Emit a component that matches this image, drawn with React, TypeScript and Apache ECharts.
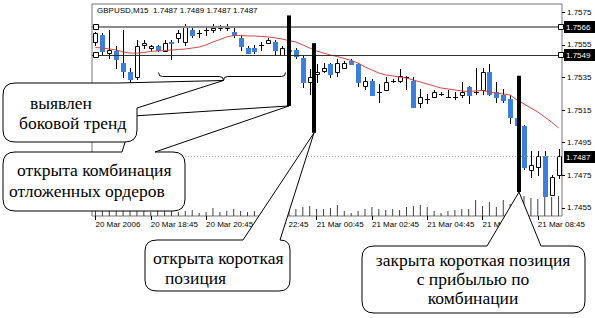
import React, { useEffect, useRef } from "react";
import * as echarts from "echarts";

const chartTitle = "GBPUSD,M15  1.7487 1.7489 1.7487 1.7487";
const timeTickLabels = [
  "20 Mar 2006", "20 Mar 18:45", "20 Mar 20:45", "20 Mar 22:45", "21 Mar 00:45",
  "21 Mar 02:45", "21 Mar 04:45", "21 Mar 06:45", "21 Mar 08:45",
];
const priceTickValues = [1.7455, 1.7475, 1.7495, 1.7515, 1.7535, 1.7555, 1.7575];

const opens = [
  1.7557, 1.7561, 1.755, 1.7551, 1.7544, 1.7538, 1.7535, 1.7555, 1.7553, 1.7554,
  1.7551, 1.7557, 1.7559, 1.7557, 1.7564, 1.7562, 1.7564, 1.7564, 1.7565, 1.7565,
  1.7563, 1.7559, 1.7553, 1.7553, 1.7555, 1.7556, 1.7557, 1.7549, 1.7552, 1.7552,
  1.7547, 1.7532, 1.7537, 1.7539, 1.7543, 1.7538, 1.7541, 1.7545, 1.7543, 1.753,
  1.7533, 1.7526, 1.7527, 1.7533, 1.7533, 1.7535, 1.7533, 1.7519, 1.7522, 1.7523,
  1.7525, 1.7523, 1.7523, 1.7524, 1.7529, 1.7526, 1.7527, 1.7538, 1.7526, 1.7524,
  1.7522, 1.751, 1.7505, 1.7478, 1.748, 1.7487, 1.7463, 1.7475,
];
const closes = [
  1.7562, 1.7551, 1.7552, 1.7546, 1.7539, 1.7534, 1.7554, 1.7556, 1.7554, 1.7552,
  1.7556, 1.7556, 1.7562, 1.7566, 1.7561, 1.7562, 1.7564, 1.7565, 1.7566, 1.7566,
  1.7561, 1.7554, 1.755, 1.7551, 1.7555, 1.7558, 1.7552, 1.7553, 1.7551, 1.7548,
  1.7532, 1.7535, 1.7538, 1.7541, 1.7537, 1.7544, 1.7544, 1.7543, 1.7532, 1.7533,
  1.7524, 1.7526, 1.7532, 1.7533, 1.7536, 1.7535, 1.7517, 1.7523, 1.7522, 1.7526,
  1.7525, 1.7523, 1.7523, 1.7526, 1.7524, 1.7526, 1.7538, 1.7525, 1.7523, 1.7521,
  1.7511, 1.7506, 1.748, 1.7481, 1.7487, 1.7462, 1.7474, 1.7487,
];
const lows = [
  1.7555, 1.7549, 1.7547, 1.7541, 1.7535, 1.7532, 1.7534, 1.7553, 1.7552, 1.7551,
  1.7551, 1.7546, 1.7557, 1.7555, 1.756, 1.756, 1.7561, 1.7563, 1.7564, 1.7564,
  1.756, 1.7552, 1.755, 1.755, 1.7552, 1.7556, 1.7549, 1.7549, 1.7549, 1.7547,
  1.7529, 1.7525, 1.7532, 1.7538, 1.7535, 1.7536, 1.7541, 1.7543, 1.753, 1.7528,
  1.7524, 1.752, 1.7527, 1.7532, 1.7532, 1.7528, 1.7517, 1.7517, 1.7519, 1.7523,
  1.7524, 1.7523, 1.7522, 1.7523, 1.7519, 1.7525, 1.7525, 1.7524, 1.752, 1.752,
  1.7507, 1.7505, 1.7479, 1.7474, 1.7475, 1.7462, 1.7463, 1.7473,
];
const highs = [
  1.7563, 1.7562, 1.7564, 1.7554, 1.7564, 1.7541, 1.7558, 1.7558, 1.7555, 1.7555,
  1.7558, 1.7558, 1.7564, 1.7568, 1.7565, 1.7564, 1.7565, 1.7568, 1.7567, 1.7568,
  1.7565, 1.7561, 1.7554, 1.7555, 1.7557, 1.7559, 1.7558, 1.7554, 1.7554, 1.7553,
  1.7549, 1.754, 1.7543, 1.7544, 1.7544, 1.7546, 1.7545, 1.7546, 1.7544, 1.7535,
  1.7534, 1.7531, 1.7535, 1.7534, 1.754, 1.7536, 1.7535, 1.7528, 1.7525, 1.7527,
  1.7526, 1.7527, 1.7526, 1.7532, 1.753, 1.7541, 1.7541, 1.7543, 1.7532, 1.7528,
  1.7524, 1.7511, 1.7506, 1.749, 1.749, 1.749, 1.7475, 1.7491,
];
const movingAverage = [
  1.75533, 1.7553, 1.75524, 1.75518, 1.75506, 1.75499, 1.75499, 1.75503, 1.75509, 1.75512,
  1.75515, 1.75518, 1.75521, 1.75524, 1.7553, 1.75536, 1.75549, 1.75567, 1.75582, 1.75598,
  1.75607, 1.75607, 1.75604, 1.75604, 1.75601, 1.75598, 1.75592, 1.75585, 1.75576, 1.75567,
  1.75549, 1.7553, 1.75512, 1.75499, 1.75487, 1.75478, 1.75466, 1.75454, 1.75438, 1.75414,
  1.75395, 1.75377, 1.75365, 1.75359, 1.75352, 1.75346, 1.75334, 1.75322, 1.75309, 1.75297,
  1.75285, 1.75279, 1.75273, 1.75267, 1.75263, 1.75267, 1.7527, 1.7526, 1.75254, 1.75248,
  1.75242, 1.75211, 1.75187, 1.75162, 1.75138, 1.75107, 1.75076, 1.7504,
];
const tickVolumes = [
  60, 80, 50, 70, 90, 60, 100, 50, 40, 60, 50, 70, 40, 50,
  60, 30, 40, 80, 40, 50, 70, 50, 40, 50,
  40, 60, 50, 70, 60, 70, 90, 100, 70, 70,
  80, 110, 50, 30, 50, 70, 90, 70, 60, 70,
  60, 90, 100, 110, 90, 50, 30, 50, 60, 70,
  70, 160, 100, 140, 90, 160, 120, 140, 200, 180,
  170, 190, 190, 200,
];
const levelPrices = [1.7566, 1.7549];
const bidPrice = 1.7487;
// vertical marker bars: bar index, top price, bottom price
const markerBars = [28, 31.6, 61.3];
const markerTops = [1.7573, 1.7556, 1.7536];
const markerBottoms = [1.75175, 1.7501, 1.74647];
const braceFromBar = 9;
const braceToBar = 27.4;
const bracePrice = 1.75358;

const categories = opens.map((_, i) => {
  const m = 16 * 60 + 45 + 15 * i;
  const day = 20 + Math.floor(m / 1440);
  const mm = m % 1440;
  return `${day} Mar ${String(Math.floor(mm / 60)).padStart(2, "0")}:${String(mm % 60).padStart(2, "0")}`;
});

const SANS = "Liberation Sans";
const SERIF = "Liberation Serif";

export default function App() {
  const ref = useRef<HTMLDivElement>(null);
  useEffect(() => {
    document.body.style.margin = "0";
    const chart = echarts.init(ref.current!, null, { renderer: "svg" });
    const candleData = opens.map((o, i) => [i, o, closes[i], lows[i], highs[i]]);
    chart.setOption({
      animation: false,
      backgroundColor: "#fff",
      grid: {
        left: 92, right: 33, top: 4, bottom: 102,
        show: true, borderColor: "#777", borderWidth: 1, backgroundColor: "#fff",
      },
      xAxis: {
        type: "category",
        data: categories,
        boundaryGap: true,
        axisLine: { show: false },
        axisTick: { show: true, interval: 7, length: 4, alignWithLabel: true, lineStyle: { color: "#000" } },
        axisLabel: {
          interval: 7,
          align: "left",
          margin: 4,
          fontSize: 8,
          fontFamily: SANS,
          color: "#000",
          formatter: (_v: string, idx: number) => timeTickLabels[Math.floor(idx / 8)] ?? "",
        },
        splitLine: { show: false },
      },
      yAxis: [
        {
          type: "value",
          position: "right",
          min: 1.745,
          max: 1.758,
          axisLine: { show: false },
          axisTick: { show: true, length: 3, customValues: priceTickValues, lineStyle: { color: "#000" } },
          axisLabel: {
            customValues: priceTickValues,
            margin: 5,
            fontSize: 8,
            fontFamily: SANS,
            color: "#000",
            formatter: (v: number) => v.toFixed(4),
          },
          splitLine: { show: false },
        },
        { type: "value", min: 0, max: 2120, show: false },
      ],
      series: [
        {
          type: "bar",
          yAxisIndex: 1,
          data: tickVolumes,
          barWidth: 1,
          itemStyle: { color: "#404040" },
          silent: true,
          z: 1,
        },
        {
          type: "custom",
          data: candleData,
          encode: { x: 0, y: [1, 2, 3, 4] },
          silent: true,
          z: 2,
          renderItem: (_p: any, api: any) => {
            const i = api.value(0);
            const o = api.value(1), c = api.value(2), l = api.value(3), h = api.value(4);
            const xc = Math.round(api.coord([i, o])[0]) + 0.5;
            const yO = Math.round(api.coord([i, o])[1]);
            const yC = Math.round(api.coord([i, c])[1]);
            const yL = Math.round(api.coord([i, l])[1]);
            const yH = Math.round(api.coord([i, h])[1]);
            const top = Math.min(yO, yC), bot = Math.max(yO, yC);
            const children: any[] = [
              { type: "line", shape: { x1: xc, y1: yH, x2: xc, y2: yL + 1 }, style: { stroke: "#000", lineWidth: 1 } },
            ];
            if (bot - top < 1) {
              children.push({ type: "line", shape: { x1: xc - 2.5, y1: top + 0.5, x2: xc + 2.5, y2: top + 0.5 }, style: { stroke: "#000", lineWidth: 1 } });
            } else if (c > o) {
              children.push({ type: "rect", shape: { x: xc - 2, y: top + 0.5, width: 4, height: bot - top }, style: { fill: "#fff", stroke: "#000", lineWidth: 1 } });
            } else {
              children.push({ type: "rect", shape: { x: xc - 2.5, y: top, width: 5, height: bot - top + 1 }, style: { fill: "#3d7fdc" } });
            }
            return { type: "group", children };
          },
        },
        {
          type: "line",
          data: movingAverage,
          symbol: "none",
          silent: true,
          z: 3,
          lineStyle: { color: "#d24545", width: 1 },
        },
      ],
    });

    const toPx = (bar: number, price: number): number[] => {
      const b0 = Math.floor(bar);
      const f = bar - b0;
      const p0 = chart.convertToPixel({ gridIndex: 0 }, [b0, price]) as number[];
      if (f === 0) return [p0[0], p0[1]];
      const p1 = chart.convertToPixel({ gridIndex: 0 }, [b0 + 1, price]) as number[];
      return [p0[0] + (p1[0] - p0[0]) * f, p0[1]];
    };

    const graphics: any[] = [];
    const cell = toPx(1, bidPrice)[0] - toPx(0, bidPrice)[0];
    const plotLeft = Math.round(toPx(0, bidPrice)[0] - cell / 2);
    const plotRight = Math.round(toPx(opens.length - 1, bidPrice)[0] + cell / 2);

    const priceBox = (p: number, y: number) => {
      graphics.push({ type: "rect", z: 45, silent: true, shape: { x: plotRight + 2, y: y - 6, width: 34, height: 12 }, style: { fill: "#000" } });
      graphics.push({ type: "text", x: plotRight + 4, y: y + 0.5, z: 46, silent: true, style: { text: p.toFixed(4), fontSize: 8, fontFamily: SANS, fill: "#fff", align: "left", verticalAlign: "middle" } });
    };

    // horizontal levels with selection handles
    levelPrices.forEach((p, k) => {
      const y = Math.round(toPx(0, p)[1]);
      if (k === 0) {
        graphics.push({ type: "line", z: 30, silent: true, shape: { x1: plotLeft, y1: y, x2: plotRight, y2: y }, style: { stroke: "#8c8c8c", lineWidth: 2 } });
      } else {
        graphics.push({ type: "line", z: 30, silent: true, shape: { x1: plotLeft, y1: y + 0.5, x2: plotRight, y2: y + 0.5 }, style: { stroke: "#333", lineWidth: 1 } });
      }
      [plotLeft + 4, plotRight - 1].forEach((x) => {
        graphics.push({ type: "rect", z: 45, silent: true, shape: { x: x - 2.5, y: y - 2.5, width: 5, height: 5 }, style: { fill: "#fff", stroke: "#000", lineWidth: 1 } });
      });
      priceBox(p, y);
    });
    {
      const y = Math.round(toPx(0, bidPrice)[1]) + 0.5;
      graphics.push({ type: "line", z: 30, silent: true, shape: { x1: plotLeft, y1: y, x2: plotRight, y2: y }, style: { stroke: "#a0a0a0", lineWidth: 1, lineDash: [1, 2] } });
      priceBox(bidPrice, Math.round(y));
    }

    const tips: number[][] = [];
    markerBars.forEach((b, k) => {
      const t = toPx(b, markerTops[k]);
      const btm = toPx(b, markerBottoms[k]);
      const x = Math.round(t[0]);
      graphics.push({ type: "rect", z: 40, silent: true, shape: { x: x - 2, y: t[1], width: 4, height: btm[1] - t[1] }, style: { fill: "#000" } });
      tips.push([x, btm[1]]);
    });

    const bL = toPx(braceFromBar, bracePrice);
    const bR = toPx(braceToBar, bracePrice);
    const by = Math.round(bL[1]) + 0.5;
    const x1 = Math.round(bL[0]) + 0.5, x2 = Math.round(bR[0]) + 0.5;
    const xm = Math.round((x1 + x2) / 2 + 1) + 0.5;
    const bracePath = `M ${x1} ${by - 4} Q ${x1} ${by} ${x1 + 4} ${by} L ${xm - 4} ${by} Q ${xm} ${by} ${xm} ${by + 4} Q ${xm} ${by} ${xm + 4} ${by} L ${x2 - 4} ${by} Q ${x2} ${by} ${x2} ${by - 4}`;
    echarts.graphic.registerShape("rangeBrace", echarts.graphic.extendPath(bracePath, {}));
    graphics.push({ type: "rangeBrace", x: 0, y: 0, z: 40, silent: true, style: { fill: "none", stroke: "#000", lineWidth: 1 } });
    const braceTip = [xm, by + 4];

    const [t2, t3, t4] = tips;
    const paths = [
      `M 15 83 L 118 83 L ${braceTip[0]} ${braceTip[1]} L 137 108 L 137 130 Q 137 142 125 142 L 15 142 Q 3 142 3 130 L 3 95 Q 3 83 15 83 Z`,
      `M 15 152 L 122 152 L 133 116 L ${t2[0]} ${t2[1]} L 155 152 L 173 152 Q 185 152 185 164 L 185 199 Q 185 211 173 211 L 15 211 Q 3 211 3 199 L 3 164 Q 3 152 15 152 Z`,
      `M 157 240 L 243 240 L ${t3[0]} ${t3[1]} L 280 240 Q 290 240 290 250 L 290 280 Q 290 291 279 291 L 157 291 Q 145 291 145 280 L 145 251 Q 145 240 157 240 Z`,
      `M 374 246 L 487 246 L ${t4[0]} ${t4[1]} L 541 246 L 573 246 Q 585 246 585 258 L 585 301 Q 585 313 573 313 L 374 313 Q 362 313 362 301 L 362 258 Q 362 246 374 246 Z`,
    ];
    const calloutZ = [62, 60, 60, 60];
    paths.forEach((d, k) => {
      const name = `callout${k + 1}`;
      echarts.graphic.registerShape(name, echarts.graphic.extendPath(d, {}));
      graphics.push({ type: name, x: 0, y: 0, z: calloutZ[k], silent: true, style: { fill: "#fff", stroke: "#000", lineWidth: 1 } });
    });

    const texts: [string, number, number, string][] = [
      ["выявлен", 30, 103, "left"],
      ["боковой тренд", 19, 123, "left"],
      ["открыта комбинация", 17, 170, "left"],
      ["отложенных ордеров", 9, 191, "left"],
      ["открыта короткая", 153, 258, "left"],
      ["позиция", 165, 278, "left"],
      ["закрыта короткая позиция", 473, 260, "center"],
      ["с прибылью по", 473, 279, "center"],
      ["комбинации", 473, 298, "center"],
    ];
    texts.forEach(([t, x, y, a]) => {
      graphics.push({
        type: "text", x, y, z: 70, silent: true,
        style: { text: t, fontSize: 17.5, lineHeight: 17, fontFamily: SERIF, fill: "#000", align: a, verticalAlign: "middle" },
      });
    });
    graphics.push({
      type: "text", x: 97, y: 10, z: 70, silent: true,
      style: { text: chartTitle, fontSize: 8, fontFamily: SANS, fill: "#000", align: "left", verticalAlign: "middle" },
    });

    chart.setOption({ graphic: graphics });
    return () => chart.dispose();
  }, []);
  return <div ref={ref} style={{ width: 595, height: 318, background: "#fff" }} />;
}
